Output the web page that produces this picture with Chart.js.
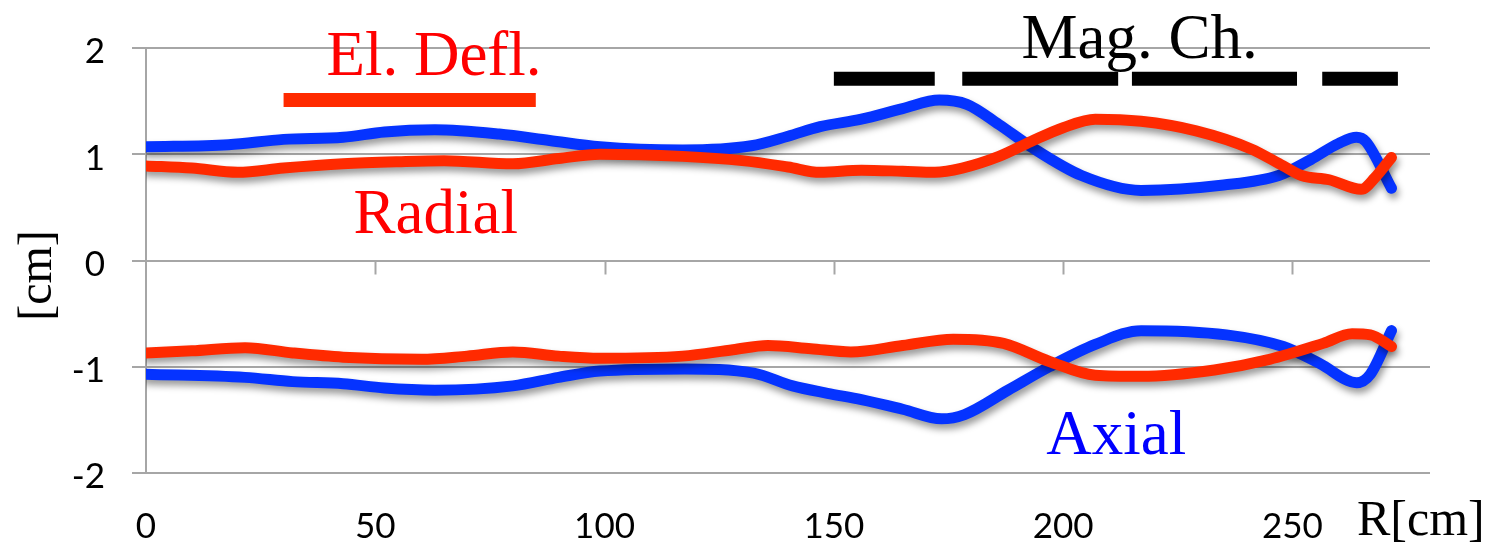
<!DOCTYPE html>
<html>
<head>
<meta charset="utf-8">
<script src="https://cdn.jsdelivr.net/npm/chart.js@4.4.0/dist/chart.umd.min.js"></script>
<style>
  html, body { margin: 0; padding: 0; background: #fff; }
  canvas { display: block; }
</style>
</head>
<body>
<canvas id="beamchart" width="1494" height="552"></canvas>
<script>
// envelope of the beam along R
const radialUpX = [0, 10, 20, 30, 43, 55, 65, 80, 90, 99, 117, 130, 140, 147, 156, 165, 172, 178, 186, 193, 200, 207, 217, 229, 241, 248, 252, 258, 265, 268, 271.6];
const radialUpY = [0.89, 0.87, 0.83, 0.87, 0.91, 0.93, 0.94, 0.91, 0.96, 1.00, 0.98, 0.94, 0.88, 0.83, 0.85, 0.84, 0.83, 0.87, 0.98, 1.12, 1.25, 1.33, 1.31, 1.22, 1.05, 0.89, 0.80, 0.76, 0.67, 0.78, 0.97];

const axialUpX = [0, 18, 30, 43, 52, 63, 77, 88, 99, 117, 132, 140, 147, 156, 165, 173, 179, 186, 193, 204, 217, 235, 247, 254, 260, 264, 266, 271.6];
const axialUpY = [1.07, 1.09, 1.14, 1.16, 1.21, 1.23, 1.19, 1.13, 1.07, 1.04, 1.08, 1.17, 1.26, 1.33, 1.43, 1.51, 1.47, 1.28, 1.07, 0.80, 0.66, 0.71, 0.80, 0.95, 1.10, 1.16, 1.12, 0.68];

const radialLoX = [0, 10, 21.6, 32, 43, 60, 70, 80, 90, 99, 117, 128, 135.6, 145, 153.7, 165, 176, 187, 197, 207, 217, 233, 245, 256.7, 263, 267, 271.6];
const radialLoY = [-0.87, -0.85, -0.82, -0.87, -0.91, -0.93, -0.90, -0.86, -0.90, -0.92, -0.90, -0.84, -0.80, -0.83, -0.86, -0.80, -0.74, -0.78, -0.95, -1.08, -1.09, -1.03, -0.93, -0.78, -0.69, -0.70, -0.81];

const axialLoX = [0, 21.6, 32, 43, 52, 63, 80, 90, 99, 117.5, 132.5, 141, 148.6, 156, 165, 173.5, 178.5, 188, 197, 207, 217, 235.6, 248, 256, 264, 267, 271.6];
const axialLoY = [-1.07, -1.10, -1.14, -1.16, -1.20, -1.22, -1.18, -1.10, -1.04, -1.02, -1.06, -1.18, -1.25, -1.31, -1.40, -1.49, -1.45, -1.22, -1.00, -0.79, -0.66, -0.70, -0.81, -0.97, -1.15, -1.07, -0.66];

// element ranges drawn as bars above the curves
const elDeflRange = [30, 85];
const elDeflLevel = 1.51;
const magStart = [150, 178, 215, 256.5];
const magEnd = [172, 212, 251, 273];
const magLevel = 1.71;

const xTicks = [0, 50, 100, 150, 200, 250];
const yTicks = [-2, -1, 0, 1, 2];

const notes = ['El. Defl.', 'Radial', 'Mag. Ch.', 'Axial'];
const noteX = [62.8, 63.2, 216.7, 211.6];
const noteY = [1.745, 0.261, 1.91, -1.82];
const noteColor = ['#ff0000', '#ff0000', '#000000', '#0000ff'];

const RED = '#ff2a00';
const BLUE = '#0533ff';
const GRID = '#a6a6a6';
const SERIF = '"Liberation Serif", "Times New Roman", serif';

function pts(xs, ys) {
  return xs.map((x, i) => ({ x: x, y: ys[i] }));
}

const magData = [];
magStart.forEach((s, i) => {
  magData.push({ x: s, y: magLevel }, { x: magEnd[i], y: magLevel });
  if (i < magStart.length - 1) magData.push({ x: (magEnd[i] + magStart[i + 1]) / 2, y: null });
});

function curve(data, color) {
  return {
    data: data,
    borderColor: color,
    borderWidth: 11,
    pointRadius: 0,
    cubicInterpolationMode: 'monotone',
    borderCapStyle: 'round',
    borderJoinStyle: 'round',
    shadow: true
  };
}

const shadowPlugin = {
  id: 'shadow',
  beforeDatasetDraw(chart, args) {
    const ctx = chart.ctx;
    ctx.save();
    if (args.meta._dataset.shadow) {
      ctx.shadowColor = 'rgba(0,0,0,0.4)';
      ctx.shadowBlur = 7;
      ctx.shadowOffsetX = 2;
      ctx.shadowOffsetY = 5;
    }
  },
  afterDatasetDraw(chart) {
    chart.ctx.restore();
  }
};

const extras = {
  id: 'extras',
  beforeDatasetsDraw(chart) {
    // small ticks hanging from the zero line
    const { ctx, scales: { x, y } } = chart;
    const y0 = y.getPixelForValue(0);
    ctx.save();
    ctx.strokeStyle = GRID;
    ctx.lineWidth = 2;
    xTicks.forEach(v => {
      if (v === 0) return;
      const px = Math.round(x.getPixelForValue(v)) + 0.5;
      ctx.beginPath();
      ctx.moveTo(px, y0);
      ctx.lineTo(px, y0 + 14);
      ctx.stroke();
    });
    ctx.restore();
  },
  afterDraw(chart) {
    const { ctx, chartArea, scales: { x, y } } = chart;
    ctx.save();
    ctx.textBaseline = 'alphabetic';
    ctx.textAlign = 'center';
    ctx.font = '63px ' + SERIF;
    notes.forEach((t, i) => {
      ctx.fillStyle = noteColor[i];
      ctx.fillText(t, x.getPixelForValue(noteX[i]), y.getPixelForValue(noteY[i]));
    });
    // axis titles
    ctx.fillStyle = '#000';
    ctx.font = '50px ' + SERIF;
    ctx.textAlign = 'left';
    ctx.fillText('R[cm]', chartArea.right - 73, chartArea.bottom + 62);
    ctx.translate(38, (chartArea.top + chartArea.bottom) / 2 + 15);
    ctx.rotate(-Math.PI / 2);
    ctx.textAlign = 'center';
    ctx.textBaseline = 'middle';
    ctx.font = '48px ' + SERIF;
    ctx.fillText('[cm]', 0, 0);
    ctx.restore();
  }
};

new Chart(document.getElementById('beamchart'), {
  type: 'line',
  data: {
    datasets: [
      curve(pts(radialUpX, radialUpY), RED),
      curve(pts(axialUpX, axialUpY), BLUE),
      curve(pts(radialLoX, radialLoY), RED),
      curve(pts(axialLoX, axialLoY), BLUE),
      {
        data: [{ x: elDeflRange[0], y: elDeflLevel }, { x: elDeflRange[1], y: elDeflLevel }],
        borderColor: RED,
        borderWidth: 14,
        borderCapStyle: 'butt',
        pointRadius: 0,
        tension: 0
      },
      {
        data: magData,
        borderColor: '#000',
        borderWidth: 14,
        borderCapStyle: 'butt',
        pointRadius: 0,
        tension: 0,
        spanGaps: false
      }
    ]
  },
  options: {
    responsive: false,
    animation: false,
    layout: { padding: { top: 42, right: 64, left: 0, bottom: 0 } },
    plugins: { legend: { display: false }, tooltip: { enabled: false } },
    scales: {
      x: {
        type: 'linear',
        min: 0,
        max: 280,
        afterBuildTicks: s => { s.ticks = xTicks.map(v => ({ value: v })); },
        afterFit: s => { s.height = 79; },
        grid: { display: false, drawTicks: false },
        border: { display: false },
        ticks: { color: '#000', font: { family: 'Lato', size: 35 }, padding: 33, maxRotation: 0 }
      },
      y: {
        min: -2,
        max: 2,
        afterBuildTicks: s => { s.ticks = yTicks.map(v => ({ value: v })); },
        afterFit: s => { s.width = 146; },
        grid: { color: GRID, lineWidth: 2, tickLength: 14, drawTicks: true },
        border: { display: true, color: GRID, width: 2 },
        ticks: { color: '#000', font: { family: 'Lato', size: 35 }, padding: 27, labelOffset: 4 }
      }
    }
  },
  plugins: [shadowPlugin, extras]
});
</script>
</body>
</html>
